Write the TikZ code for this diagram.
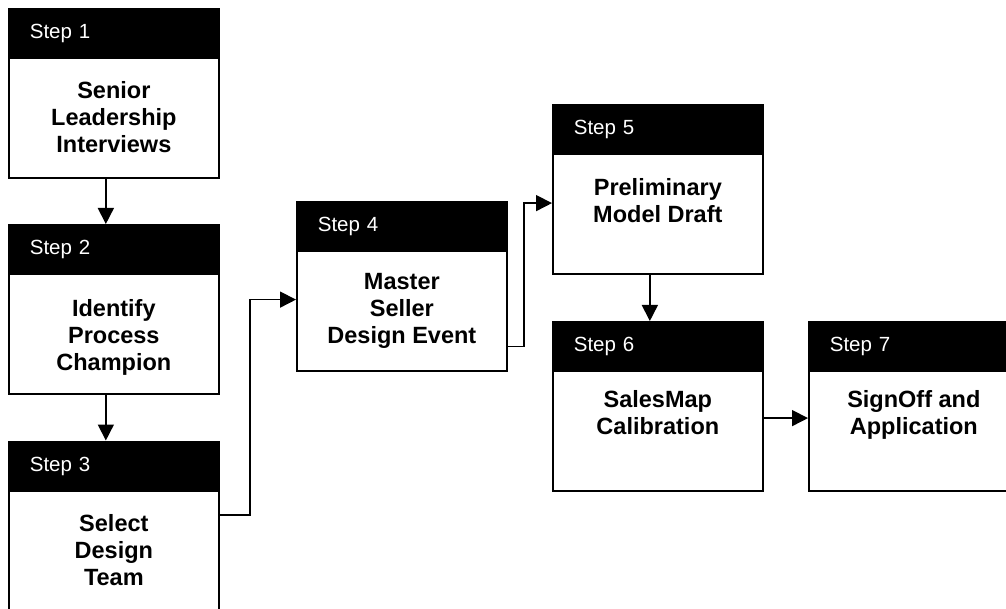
\documentclass[tikz,border=0pt]{standalone}
\usepackage{fontspec}
\setmainfont{Liberation Sans}
\usetikzlibrary{arrows.meta}
\tikzset{
  hdr/.style={rectangle, draw=black, fill=black, line width=1.7pt, minimum width=210pt, minimum height=49.5pt,
    inner xsep=21pt, inner ysep=0pt, text width=168pt, align=left, text=white,
    font=\fontsize{20.5}{24}\selectfont, anchor=north west},
  bodybox/.style={rectangle, draw=black, fill=white, line width=1.7pt, minimum width=210pt, minimum height=119.5pt,
    inner sep=0pt, anchor=north west},
  bodytext/.style={align=center, inner sep=0pt, anchor=north, font=\fontsize{23.5}{27}\selectfont\bfseries},
  conn/.style={line width=1.6pt, -{Triangle[length=16pt,width=16pt]}}
}
\newcommand\mkstep[6]{%
  \node[hdr] (h#1) at (#2,#3) {Step #1};
  \node[bodybox] (b#1) at (#2,#3+49.5) {};
  \node[bodytext] (t#1) at ([yshift=-#6pt]b#1.north) {#5};
}
\begin{document}
\begin{tikzpicture}[x=1pt,y=-1pt]
\useasboundingbox (0,0) rectangle (1006,609);
\clip (0,0) rectangle (1006,609);
\mkstep{1}{8}{8}{}{Senior\\Leadership\\Interviews}{24}
\mkstep{2}{8}{224}{}{Identify\\Process\\Champion}{26}
\mkstep{3}{8}{440.5}{}{Select\\Design\\Team}{24}
\mkstep{4}{296}{201}{}{Master\\Seller\\Design Event}{23}
\mkstep{5}{552}{104}{}{Preliminary\\Model Draft}{25}
\mkstep{6}{552}{321}{}{SalesMap\\Calibration}{20}
\mkstep{7}{808}{321}{}{SignOff and\\Application}{20}
\draw[conn] ([xshift=-8pt]b1.south) -- ([xshift=-8pt]h2.north);
\draw[conn] ([xshift=-8pt]b2.south) -- ([xshift=-8pt]h3.north);
\draw[conn] ([yshift=35.5pt]b3.east) -- ++(30,0) |- ([yshift=11.5pt]b4.west);
\draw[conn] ([yshift=-35.5pt]b4.east) -- ++(16,0) |- ([yshift=11pt]b5.west);
\draw[conn] ([xshift=-8pt]b5.south) -- ([xshift=-8pt]h6.north);
\draw[conn] ([yshift=13pt]b6.east) -- ([yshift=13pt]b7.west);
\end{tikzpicture}
\end{document}
